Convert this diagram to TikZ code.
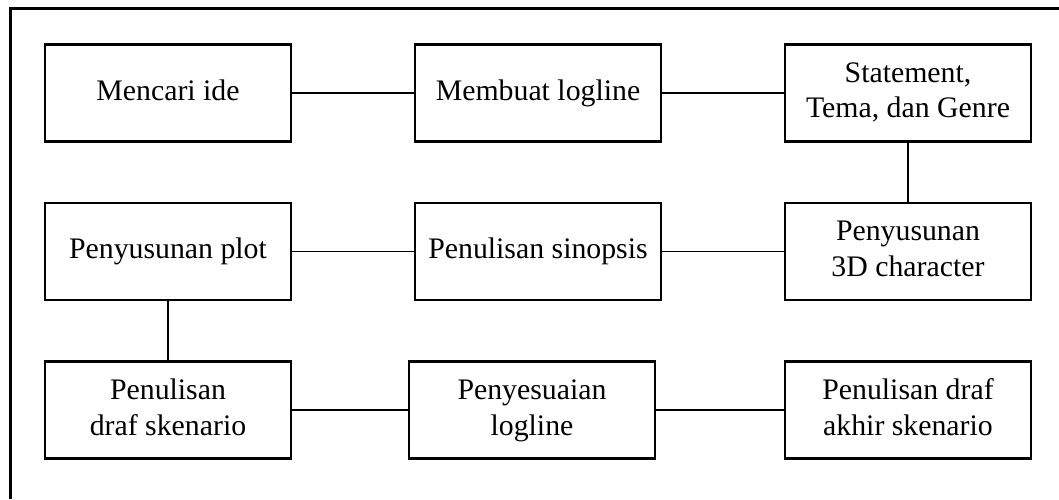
\documentclass[tikz,border=0pt]{standalone}
\usepackage{fontspec}
\setmainfont{Liberation Serif}
\begin{document}
\begin{tikzpicture}[x=1pt,y=-1pt,
  stepbox/.style={draw=black,line width=2.4pt,minimum width=246pt,minimum height=97pt,inner sep=0pt,align=center,
    font=\fontsize{29.8pt}{35.7pt}\selectfont},
  link/.style={draw=black,line width=1.6pt},
  frame/.style={draw=black,line width=3pt}]
\useasboundingbox (0,0) rectangle (1059,499);
\coordinate (fb) at (10.5,499);
\coordinate (fc) at (10.5,8);
\coordinate (fr) at (1059,8);
\draw[frame] (fb) -- (fc) -- (fr);
\node[stepbox] (a1) at (168,93) {\strut Mencari ide};
\node[stepbox] (a2) at (538,93) {\strut Membuat logline};
\node[stepbox] (a3) at (908,93) {\strut Statement,\\\strut Tema, dan Genre};
\node[stepbox] (b1) at (168,251.5) {\strut Penyusunan plot};
\node[stepbox] (b2) at (538,251.5) {\strut Penulisan sinopsis};
\node[stepbox] (b3) at (908,251.5) {\strut Penyusunan\\\strut 3D character};
\node[stepbox] (c1) at (168,410) {\strut Penulisan\\\strut draf skenario};
\node[stepbox] (c2) at (532,410) {\strut Penyesuaian\\\strut logline};
\node[stepbox] (c3) at (908,410) {\strut Penulisan draf\\\strut akhir skenario};
\draw[link] (a1) -- (a2);
\draw[link] (a2) -- (a3);
\draw[link] (a3) -- (b3);
\draw[link] (b3) -- (b2);
\draw[link] (b2) -- (b1);
\draw[link] (b1) -- (c1);
\draw[link] (c1) -- (c2);
\draw[link] (c2) -- (c3);
\end{tikzpicture}
\end{document}
